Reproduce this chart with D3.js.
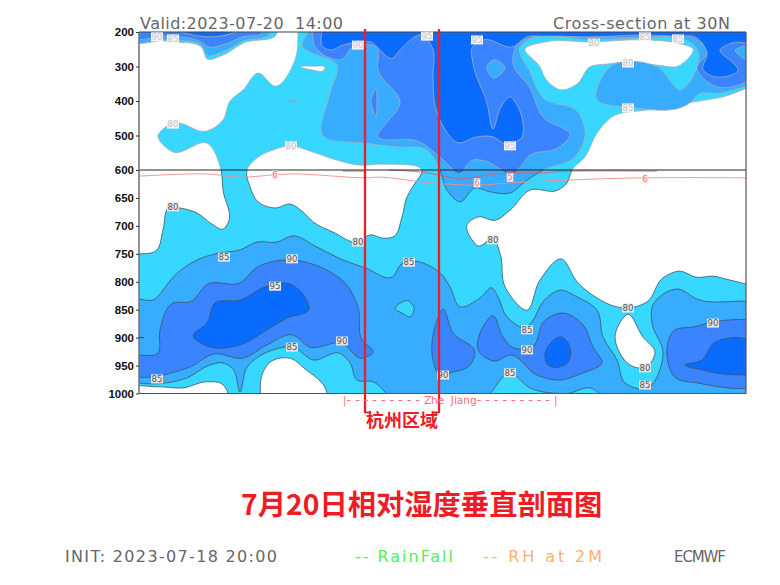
<!DOCTYPE html>
<html><head><meta charset="utf-8">
<script src="https://cdn.jsdelivr.net/npm/d3@7"></script>
<style>html,body{margin:0;padding:0;background:#fff}svg{display:block}</style>
</head><body><svg id="c" width="780" height="585"></svg>
<script>
// ---- data: x = column along the 30N section, p = pressure (hPa) ----
const pressureTicks=[200,300,400,500,600,650,700,750,800,850,900,950,1000];
const bandColors={80:"#37d7ff",85:"#38acff",90:"#3a85ff",95:"#0a6bff"};

const below80=[
[[-1,223],[3.4,229],[6.3,246],[6.8,278],[8.4,267],[10.4,232],[13.8,200],[13.8,190],[15.9,190],[15.9,200],[15.6,281],[13.6,357],[11.9,319],[10.4,368],[9.1,400],[8.4,455],[6.8,487],[3.4,464],[1.9,501],[3.4,548],[6.8,522],[8.2,600],[8.4,636],[8.9,695],[8.4,706],[7.4,698],[5.8,677],[4.1,668],[3.1,666],[2.4,707],[1.8,743],[-1,749]],
[[10.8,600],[11.8,565],[13.4,542],[15.3,530],[16.8,542],[19.1,565],[22.1,586],[24.4,583],[28.3,602],[27.3,632],[26.8,648],[26.3,684],[25.4,720],[24.4,722],[23.1,716],[21.9,729],[19.4,711],[17.4,693],[16.4,675],[15.1,661],[13.6,668],[11.9,657],[11.1,630]],
[[16.1,301],[17.4,299],[18.6,304],[18.5,310],[17.3,310]],
[[38.6,249],[40.6,229],[45.1,229],[50.4,223],[53.8,232],[55.4,249],[53.9,299],[51.8,296],[48.8,287],[46.8,293],[45.1,301],[43.8,351],[42.3,368],[40.6,333],[40.1,301]],
[[62,353],[58.4,388],[55.4,403],[50.8,426],[47.3,446],[45.8,493],[44.6,562],[43.3,600],[42.8,623],[41.9,636],[39.1,636],[37.1,672],[35.6,690],[33.9,684],[32.8,698],[33.3,725],[33.9,736],[35.4,722],[36.1,749],[36.6,809],[38.8,851],[40.1,797],[42.2,759],[43.9,802],[45.8,829],[47.8,845],[48.9,847],[50.8,836],[52.4,793],[54,781],[55.8,792],[57.4,790],[59.1,797],[62,808]],
[[48.9,858],[47.6,899],[48.1,928],[49.1,949],[50.6,954],[51.6,926],[50.4,899]],
[[-1,994],[1.9,988],[4.4,990],[6.8,979],[8.3,983],[8.9,1000],[8.9,1010],[-1,1010]],
[[12.3,1010],[12.4,962],[13.1,944],[15.3,938],[16.4,953],[18.8,1000],[18.8,1010]]
];
const band85=[
[[-1,829],[1.6,831],[2.4,815],[3.4,792],[5.8,761],[7.9,749],[10.1,743],[11.8,729],[13.8,729],[15.3,718],[17.8,738],[20.4,761],[22.6,775],[25.3,792],[26.4,766],[27.6,763],[29.1,772],[30.1,784],[31.1,809],[32.1,845],[34.1,829],[35.3,811],[35.9,827],[36.8,863],[38.8,881],[39.4,869],[40.4,836],[42.1,815],[43.8,827],[45.8,851],[46.4,899],[47.8,940],[48.6,981],[50.6,992],[52.4,926],[51.3,874],[51.3,845],[53.9,813],[55.8,831],[62,842],[62,1010],[46.8,1010],[45.1,990],[42.8,1000],[42.1,1000],[39.1,990],[37.1,963],[34.8,1005],[25.1,1005],[23.4,979],[21.8,976],[21.1,945],[20.1,928],[17.4,940],[15.4,917],[13.4,922],[10.8,953],[10.1,997],[9.3,954],[8.3,945],[7.1,949],[4.8,972],[-1,974]],
[[-1,217],[3.6,223],[6.4,243],[6.8,267],[8.3,258],[10.4,226],[13.1,200],[13.1,190],[-1,190]],
[[17.1,190],[62,190],[62,330],[58.1,377],[55.8,383],[55.4,397],[48.8,417],[45.8,397],[47.1,301],[51.8,301],[54.1,368],[55.8,249],[55.1,229],[53.9,217],[50.4,217],[45.1,223],[39.1,220],[38.1,243],[39.1,316],[40.4,391],[43.9,432],[44.6,499],[43.6,562],[40.4,600],[38.8,618],[37.1,641],[35.1,639],[33.6,632],[32.1,657],[30.8,636],[30.1,600],[28.8,542],[25.8,533],[22.4,522],[18.4,501],[19.1,377],[19.8,296],[17.3,261],[16.4,246]],
[[15,400],[15.4,398],[15.8,400],[15.4,402]]
];
const holes80=[
[[25.6,849],[26.9,834],[27.5,847],[27.1,863],[26.3,856]]
];
const band90=[
[[-1,937],[1.9,928],[2.1,886],[3.4,838],[5.1,836],[6.9,804],[10.1,802],[11.8,774],[15.1,761],[18.3,775],[20.6,802],[21.9,845],[22.3,904],[23.4,926],[22.3,937],[20.3,910],[17.1,917],[15.3,895],[12.8,913],[10.3,937],[7.6,929],[4.9,954],[-1,956]],
[[30.4,849],[31.4,892],[33.6,926],[33.1,949],[31.1,963],[30.1,967],[29.4,940],[29.3,910],[29.6,881]],
[[35.4,861],[36.4,899],[37.3,917],[39.3,917],[40.6,869],[42.4,856],[44.4,877],[45.4,917],[46.3,945],[44.4,963],[41.8,976],[39.8,967],[37.1,931],[35.6,942],[33.9,922],[34.1,892]],
[[62,876],[57.4,872],[55.4,881],[53.6,886],[52.9,945],[53.6,971],[55.8,981],[62,981]],
[[-1,203],[3.6,212],[6.4,232],[6.9,243],[8.3,238],[10.4,214],[12.3,200],[12.3,190],[-1,190]],
[[17.3,190],[62,190],[62,316],[57.6,357],[55.8,304],[56.8,258],[55.4,217],[53.9,214],[50.4,214],[45.1,217],[39.1,217],[37.8,238],[37.4,290],[39.1,362],[40.4,446],[43.1,501],[41.9,536],[39.1,557],[37.8,600],[37.1,605],[36.3,600],[34.9,577],[33.4,571],[32.1,604],[30.1,562],[28.1,519],[23.9,504],[26.1,403],[23.9,310],[23.8,246],[21.4,243],[20.4,278],[17.6,243]],
[[23.7,365],[23.8,397],[23.7,443],[23.2,397]]
];
const band95=[
[[5.4,897],[6.8,874],[7.6,838],[10.1,833],[12.8,808],[15.1,804],[16.3,820],[17,849],[14.8,865],[12.8,886],[10.1,913],[6.8,915]],
[[42.3,899],[43.1,917],[42.9,944],[41.9,953],[40.9,949],[40.6,928]],
[[54.6,949],[56.3,940],[57.4,911],[62,915],[62,956],[58.4,965],[56.4,958]],
[[3.3,190],[6.1,212],[6.9,214],[8.1,212],[10.6,190]],
[[18.3,190],[62,190],[62,226],[59.3,232],[58.1,252],[59.3,287],[59.9,307],[57.6,330],[56.4,310],[56.8,261],[55.6,214],[53.9,212],[50.4,209],[45.1,214],[40.4,212],[38.8,214],[37.4,243],[34.4,223],[33.3,246],[33.4,290],[34.8,406],[35.4,481],[36.3,412],[37.1,388],[37.9,417],[38.4,464],[38.3,504],[36.7,525],[35.4,504],[33.4,507],[32.1,522],[30.2,461],[29.6,412],[29.4,330],[29.3,243],[28.4,209],[26.1,252],[25.4,275],[23.1,229],[20.4,238],[19.1,252],[18.4,243]]
];
const patches85=[
[[34.8,301],[35.4,281],[36.6,304],[35.4,333]],
[[59.6,252],[62,243],[62,293]]
];
const line6=[[0,611],[6.8,607],[10.1,613],[15.1,607],[22.4,614],[24.4,613],[29.1,623],[33.8,627],[37.1,623],[42.8,618],[50.4,614],[60.7,614]];
const line5a=[[25.1,600],[28.4,604],[31.1,613],[32.4,616],[34.8,609],[37.1,605],[40.1,605],[43.1,602],[51.8,602]];
const line5b=[[20.4,602],[22.6,602]];
const labelsTop=[[1.8,214,"90"],[3.4,220,"85"],[21.9,238,"90"],[28.8,212,"95"],[33.8,223,"95"],[3.4,467,"80"],[15.2,530,"80"],[45.5,232,"80"],[50.6,214,"85"],[53.9,220,"85"],[48.9,290,"80"],[48.9,420,"85"],[37.1,530,"95"]];
const labelsBottom=[[3.4,666,"80"],[8.5,756,"85"],[15.3,759,"90"],[13.6,808,"95"],[1.8,974,"85"],[15.3,917,"85"],[20.3,906,"90"],[21.9,729,"80"],[27,765,"85"],[35.4,725,"80"],[38.8,886,"85"],[38.8,922,"90"],[30.4,967,"90"],[37.1,963,"85"],[48.9,847,"80"],[50.6,954,"80"],[50.6,985,"85"],[57.4,874,"90"]];
const labelsRain=[[13.6,609,"6"],[33.8,623,"6"],[37.1,613,"5"],[50.6,616,"6"]];
const hangzhouCols=[22.6,30];
const titleLeft="Valid:2023-07-20  14:00", titleRight="Cross-section at 30N";
const footLeft="INIT: 2023-07-18 20:00", footRain="-- RainFall", footRH="-- RH at 2M", footSource="ECMWF";
const caption="7月20日相对湿度垂直剖面图", regionName="杭州区域";
const provinceParts=["|","---------","Zhe  Jiang","---------","|"];

// ---- drawing ----
const svg=d3.select("#c");
const L=139,R=746,T=32,M=170,B=393.5;
const x=d3.scaleLinear().domain([0,60.7]).range([L,R]);
const y=d3.scaleLinear().domain([200,600,1000]).range([T,M,B]);
const area=d3.line().x(d=>x(d[0])).y(d=>y(d[1])).curve(d3.curveCatmullRomClosed.alpha(1));
const path=d3.line().x(d=>x(d[0])).y(d=>y(d[1])).curve(d3.curveCatmullRom.alpha(0.5));
const defs=svg.append("defs");
defs.append("clipPath").attr("id","plot").append("rect").attr("x",L).attr("y",T).attr("width",R-L).attr("height",B-T);
defs.append("clipPath").attr("id","up").append("rect").attr("x",L).attr("y",T).attr("width",R-L).attr("height",M-T);
defs.append("clipPath").attr("id","down").append("rect").attr("x",L).attr("y",M).attr("width",R-L).attr("height",B-M);

const layers=[
 {rows:below80,fill:"#fff"},{rows:band85,fill:bandColors[85]},{rows:holes80,fill:bandColors[80]},
 {rows:band90,fill:bandColors[90]},{rows:band95,fill:bandColors[95]},{rows:patches85,fill:bandColors[85]}
];
const plot=svg.append("g").attr("clip-path","url(#plot)");
plot.append("rect").attr("x",L).attr("y",T).attr("width",R-L).attr("height",B-T).attr("fill",bandColors[80]);
function paint(g,stroke,w){
 layers.forEach(l=>{
  g.selectAll(null).data(l.rows).join("path").attr("d",area)
   .attr("fill",l.fill).attr("stroke",stroke).attr("stroke-width",w).attr("stroke-linejoin","round");
 });
}
paint(svg.append("g").attr("clip-path","url(#up)"),"#a3adb8",0.8);
paint(svg.append("g").attr("clip-path","url(#down)"),"#3c5468",0.8);

// rain contours
const rain=svg.append("g").attr("fill","none");
rain.append("path").datum(line6).attr("d",path).attr("stroke","#f08c8c").attr("stroke-width",0.9);
rain.selectAll(null).data([line5a,line5b]).join("path").attr("d",path).attr("stroke","#c8607a").attr("stroke-width",0.9);

// 600 hPa divider + frame
svg.append("line").attr("x1",L).attr("x2",R).attr("y1",y(600)).attr("y2",y(600)).attr("stroke","#222").attr("stroke-width",1);
svg.append("path").attr("d",`M${R},${T}H${L}`).attr("stroke","#444").attr("fill","none").attr("stroke-width",1.2);
svg.append("path").attr("d",`M${L},${T}V${B}`).attr("stroke","#777").attr("fill","none").attr("stroke-width",1.6);
svg.append("path").attr("d",`M${L},${B}H${R}V${T}`).attr("stroke","#555").attr("fill","none").attr("stroke-width",1.2);

// axis
const axis=svg.append("g").attr("transform",`translate(${L},0)`)
 .call(d3.axisLeft(y).tickValues(pressureTicks).tickFormat(d3.format("d")).tickSize(3).tickPadding(2).tickSizeOuter(0));
axis.select(".domain").remove();
axis.selectAll("text").attr("font-family","Liberation Sans").attr("font-weight","bold").attr("font-size",11.5).attr("fill","#111");
axis.selectAll("line").attr("stroke","#333");
svg.append("line").attr("x1",L).attr("x2",L+5).attr("y1",y(900)).attr("y2",y(900)).attr("stroke","#1d4f8c").attr("stroke-width",1);

// contour labels
function label(rows,text,bg,size){
 const g=svg.append("g");
 rows.forEach(r=>{
  const w=r[2].length*5.5+1;
  g.append("rect").attr("x",x(r[0])-w/2).attr("y",y(r[1])-4.5).attr("width",w).attr("height",9).attr("fill",bg);
  g.append("text").attr("x",x(r[0])).attr("y",y(r[1])+3.2).attr("text-anchor","middle")
   .attr("font-family","DejaVu Sans").attr("font-size",size).attr("fill",text).text(r[2]);
 });
}
label(labelsTop,"#c4c4c4","#f4f4f4",8.5);
label(labelsBottom,"#555","#e6e6e6",8.5);
label(labelsRain,"#f07c7c","#ffe6e6",8.5);

// Hangzhou box
const red="#ee1c25";
svg.selectAll(null).data(hangzhouCols).join("line")
 .attr("x1",d=>x(d)).attr("x2",d=>x(d)).attr("y1",29).attr("y2",413)
 .attr("stroke",red).attr("stroke-width",2.3);
svg.selectAll(null).data([[hangzhouCols[0],0.6],[hangzhouCols[1],-0.7]]).join("line")
 .attr("x1",d=>x(d[0])).attr("x2",d=>x(d[0]+d[1])).attr("y1",412.5).attr("y2",412.5)
 .attr("stroke",red).attr("stroke-width",1.8);

function t(str,px,py,width,o){
 const e=svg.append("text").attr("x",px).attr("y",py).style("white-space","pre").text(str);
 if(width) e.attr("textLength",width).attr("lengthAdjust","spacing");
 Object.entries(o).forEach(([k,v])=>e.attr(k,v));
 return e;
}
const thin={"font-family":"DejaVu Sans","font-size":16,"fill":"#666"};
t(titleLeft,140,29,203,thin);
t(titleRight,553,29,177,thin);
t(footLeft,65,562,212,thin);
t(footSource,674,562,52,{...thin,"font-size":15});
t(footRain,355,562,98,{...thin,fill:"#55ee55"});
t(footRH,483,562,119,{...thin,fill:"#ffb070"});
const prov=svg.append("text").attr("x",343).attr("y",403.5).attr("font-family","DejaVu Sans").attr("font-size",10.5).attr("fill","#f46a7a").style("white-space","pre");
provinceParts.forEach(s=>{
 const dash=s[0]==="-";
 prov.append("tspan").attr("font-size",dash?13:10.5).attr("letter-spacing",dash?3.9:0).text(s);
});
t(regionName,366,427,0,{"font-family":"Noto Sans CJK SC","font-weight":"bold","font-size":18,"fill":red});
t(caption,241,515,0,{"font-family":"Noto Sans CJK SC","font-weight":"bold","font-size":28.3,"fill":red});
</script></body></html>
